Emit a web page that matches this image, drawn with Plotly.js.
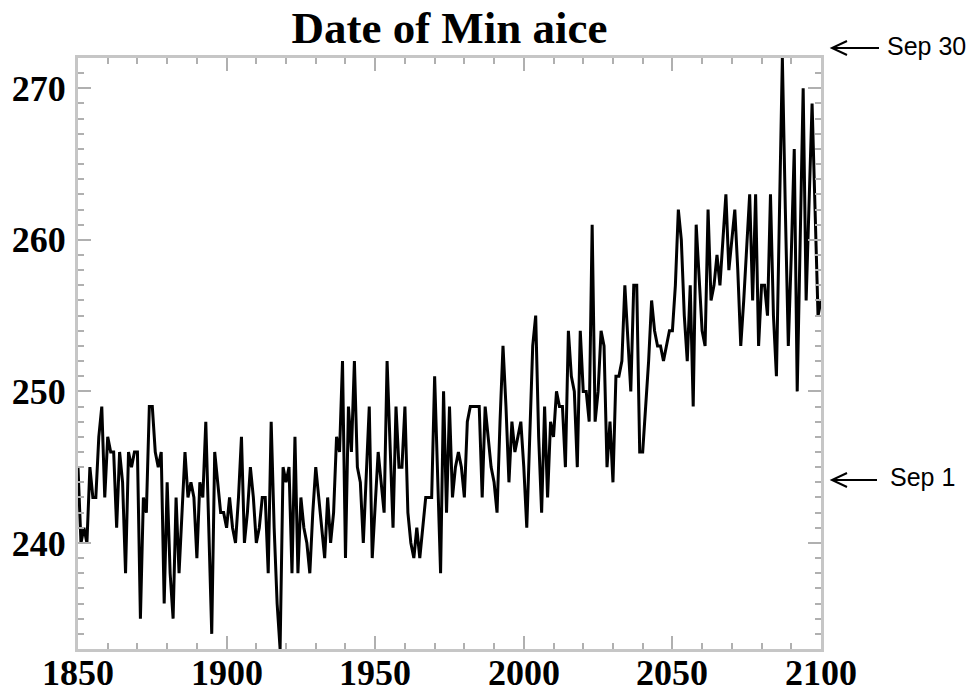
<!DOCTYPE html>
<html>
<head>
<meta charset="utf-8">
<script src="https://cdn.plot.ly/plotly-3.0.1.min.js"></script>
<style>html,body{margin:0;padding:0;background:#fff;}#chart{width:970px;height:700px;}</style>
</head>
<body>
<div id="chart"></div>
<script>
// Day of year of the minimum sea-ice (aice) date, one value per year
const startYear = 1850;
const doy1850_1899 = [245,240,241,240,245,243,243,247,249,243, 247,246,246,241,246,244,238,246,245,246,
                      246,235,243,242,249,249,246,245,246,236, 244,238,235,243,238,242,246,243,244,243,
                      239,244,243,248,241,234,246,244,242,242];
const doy1900_1949 = [241,243,241,240,243,247,240,242,245,243, 240,241,243,243,238,248,241,236,233,245,
                      244,245,238,247,238,243,241,240,238,242, 245,243,241,239,243,240,242,247,246,252,
                      239,249,246,252,245,244,240,245,249,239];
const doy1950_1999 = [243,246,244,242,252,246,241,249,245,245, 249,242,240,239,241,239,241,243,243,243,
                      251,244,238,250,242,249,243,245,246,245, 243,248,249,249,249,249,243,249,247,245,
                      244,242,248,253,249,244,248,246,247,248];
const doy2000_2049 = [245,241,247,253,255,247,242,249,243,248, 247,250,249,249,245,254,251,250,245,254,
                      250,250,248,261,248,250,254,253,245,248, 244,251,251,252,257,253,250,257,257,246,
                      246,249,252,256,254,253,253,252,253,254];
const doy2050_2100 = [254,257,262,260,255,252,257,249,261,257, 254,253,262,256,257,259,257,260,263,258,
                      260,262,258,253,256,260,263,256,263,253, 257,257,255,263,255,251,263,272,262,253,
                      259,266,250,261,270,256,263,269,262,255, 256];

const xTickLabels = ['1850','1900','1950','2000','2050','2100'];
const yTickLabels = ['240','250','260','270'];
const noteLabels = ['Sep 30','Sep 1'];

const doy = [].concat(doy1850_1899, doy1900_1949, doy1950_1999, doy2000_2049, doy2050_2100);
const years = doy.map((_, i) => startYear + i);

// plot-area geometry (pixels) for decorations outside the axes
const W = 970, H = 700, L = 78, R = 821, T = 58, B = 649;
const px = x => (x - L) / (R - L);
const py = y => (B - y) / (B - T);

function arrowPath(x0, x1, y, hx, hy) {
  return 'M' + px(x1) + ',' + py(y) + 'L' + px(x0) + ',' + py(y) +
         'M' + px(x0 + hx) + ',' + py(y - hy) + 'L' + px(x0) + ',' + py(y) +
         'L' + px(x0 + hx) + ',' + py(y + hy);
}

const tickFont = {family: 'Liberation Serif', size: 36, weight: 'bold', color: '#000'};

const axisCommon = {
  showline: true, linecolor: '#c6c6c6', linewidth: 3, mirror: 'allticks',
  ticks: 'inside', tickcolor: '#b0b0b0', tickwidth: 2, ticklen: 13,
  showgrid: false, zeroline: false, tickfont: tickFont
};

const trace = {
  x: years, y: doy, type: 'scatter', mode: 'lines',
  line: {color: '#000', width: 3}, hoverinfo: 'x+y'
};

// x tick labels placed on the x scale just under the frame
const xLabelAnnotations = xTickLabels.map(t => ({
  text: t, xref: 'x', yref: 'paper', x: Number(t), y: py(673),
  xanchor: 'center', yanchor: 'middle', showarrow: false, font: tickFont
}));

const layout = {
  width: W, height: H,
  margin: {l: L, r: W - R, t: T, b: H - B, pad: 0},
  paper_bgcolor: '#fff', plot_bgcolor: '#fff',
  showlegend: false,
  title: {
    text: 'Date of Min aice',
    font: {family: 'Liberation Serif', size: 45, weight: 'bold', color: '#000'},
    x: 0.5, xref: 'paper', xanchor: 'center',
    y: 1 - 27 / H, yref: 'container', yanchor: 'middle'
  },
  xaxis: Object.assign({}, axisCommon, {
    range: [1850, 2100],
    tickmode: 'array', tickvals: xTickLabels.map(Number), ticktext: xTickLabels,
    showticklabels: false,
    minor: {dtick: 10, tick0: 1850, ticks: 'inside', ticklen: 6, tickwidth: 2, tickcolor: '#b0b0b0', showgrid: false}
  }),
  yaxis: Object.assign({}, axisCommon, {
    range: [233, 272],
    tickmode: 'array', tickvals: yTickLabels.map(Number), ticktext: yTickLabels,
    ticklabelstandoff: 2,
    minor: {dtick: 1, tick0: 233, ticks: 'inside', ticklen: 6, tickwidth: 2, tickcolor: '#b0b0b0', showgrid: false}
  }),
  shapes: [
    {type: 'path', xref: 'paper', yref: 'paper', path: arrowPath(832, 879, 48, 15, 7), line: {color: '#000', width: 2}},
    {type: 'path', xref: 'paper', yref: 'paper', path: arrowPath(832, 877, 480, 15, 7), line: {color: '#000', width: 2}}
  ],
  annotations: xLabelAnnotations.concat([
    {text: noteLabels[0], xref: 'paper', yref: 'paper', x: px(885), y: py(46), xanchor: 'left', yanchor: 'middle',
     showarrow: false, font: {family: 'Liberation Sans', size: 25, color: '#000'}},
    {text: noteLabels[1], xref: 'paper', yref: 'paper', x: px(888), y: py(477), xanchor: 'left', yanchor: 'middle',
     showarrow: false, font: {family: 'Liberation Sans', size: 25, color: '#000'}}
  ])
};

Plotly.newPlot('chart', [trace], layout, {displayModeBar: false, staticPlot: true});
</script>
</body>
</html>
